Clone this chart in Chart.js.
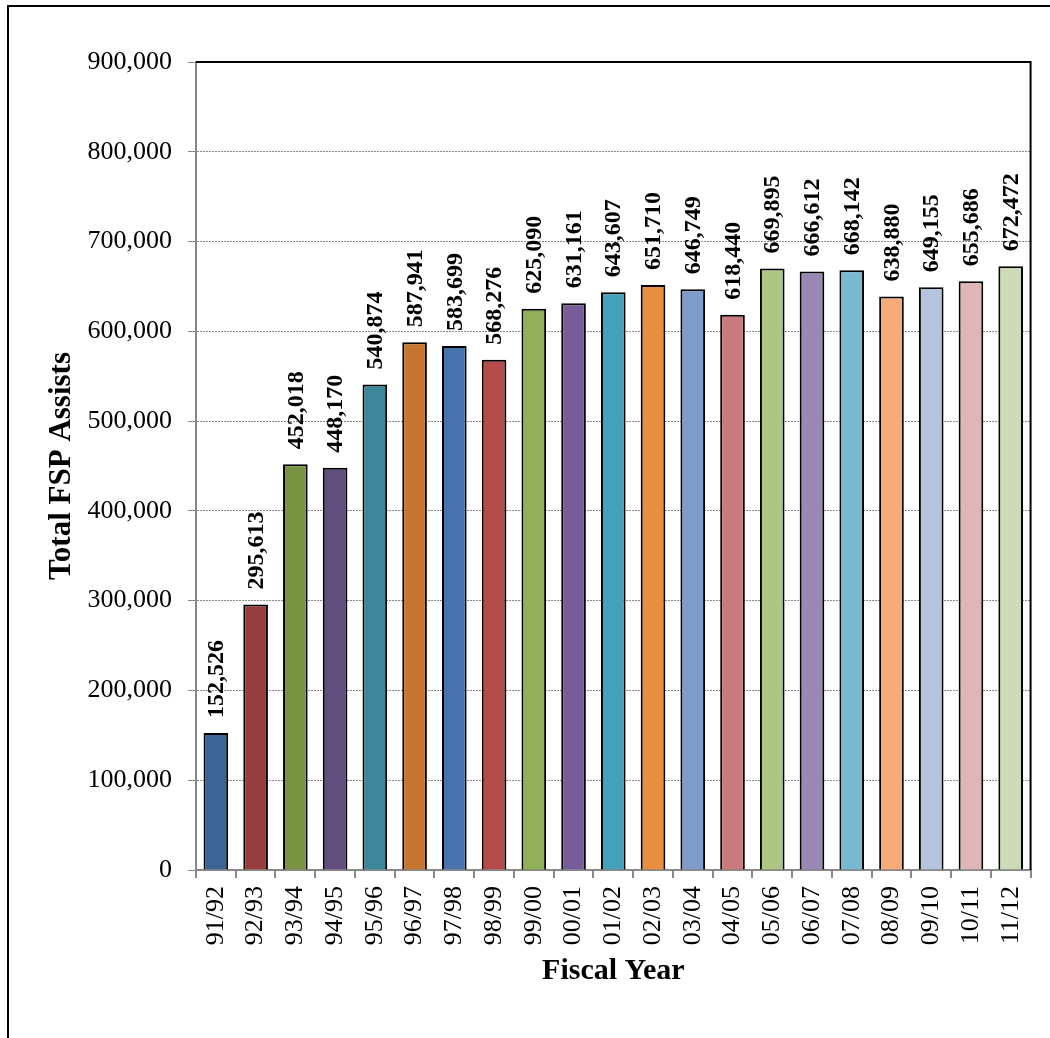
<!DOCTYPE html>
<html>
<head>
<meta charset="utf-8">
<script src="https://cdn.jsdelivr.net/npm/chart.js@4.4.1/dist/chart.umd.min.js"></script>
<style>
  html, body { margin: 0; padding: 0; background: #ffffff; }
  canvas { display: block; }
</style>
</head>
<body>
<canvas id="chart" width="1050" height="1038" style="width:1050px;height:1038px"></canvas>
<script>
// Fiscal years on the category axis
const fiscalYears = ['91/92','92/93','93/94','94/95','95/96','96/97','97/98','98/99','99/00','00/01',
  '01/02','02/03','03/04','04/05','05/06','06/07','07/08','08/09','09/10','10/11','11/12'];

// Total FSP assists per fiscal year
const totalAssists = [152526, 295613, 452018, 448170, 540874, 587941, 583699, 568276, 625090, 631161,
  643607, 651710, 646749, 618440, 669895, 666612, 668142, 638880, 649155, 655686, 672472];

// One fill per bar
const barColors = ['#3C6596','#963D3C','#799441','#634C7E','#3A889A','#C6762F','#4774AE','#B44C4A',
  '#92B056','#775C97','#45A1BA','#E98E3E','#7E9BCA','#C97A7A','#ADC684','#9B87B3','#7ABACF',
  '#F6AB78','#B5C3DE','#DFB6B6','#CDDBB6'];

// Value axis range
const yMin = 0;
const yMax = 900000;
const yStep = 100000;

const SERIF = '"Liberation Serif", "Times New Roman", serif';
const fmt = v => Number(v).toLocaleString('en-US');

// Outer frame plus black top/right edges of the plot area
const framePlugin = {
  id: 'frame',
  beforeDraw(chart) {
    const ctx = chart.ctx;
    ctx.save();
    ctx.strokeStyle = '#000';
    ctx.lineWidth = 2;
    ctx.beginPath();
    ctx.moveTo(8, 1038);
    ctx.lineTo(8, 6);
    ctx.lineTo(1050, 6);
    ctx.stroke();
    ctx.restore();
  },
  afterDatasetsDraw(chart) {
    const { ctx, chartArea: a } = chart;
    ctx.save();
    ctx.strokeStyle = '#000';
    ctx.lineWidth = 2;
    ctx.beginPath();
    ctx.moveTo(a.left, a.top);
    ctx.lineTo(a.right, a.top);
    ctx.lineTo(a.right, a.bottom);
    ctx.stroke();
    ctx.restore();
  }
};

// Vertical value labels above each bar
const valueLabelPlugin = {
  id: 'valueLabels',
  afterDatasetsDraw(chart) {
    const ctx = chart.ctx;
    const meta = chart.getDatasetMeta(0);
    const data = chart.data.datasets[0].data;
    ctx.save();
    ctx.fillStyle = '#000';
    ctx.font = 'bold 24px ' + SERIF;
    ctx.textAlign = 'left';
    ctx.textBaseline = 'middle';
    meta.data.forEach((bar, i) => {
      ctx.save();
      ctx.translate(bar.x + 1, bar.y - 15);
      ctx.rotate(-Math.PI / 2);
      ctx.fillText(fmt(data[i]), 0, 0);
      ctx.restore();
    });
    ctx.restore();
  }
};

new Chart(document.getElementById('chart'), {
  type: 'bar',
  data: {
    labels: fiscalYears,
    datasets: [{
      data: totalAssists,
      backgroundColor: barColors,
      borderColor: '#000',
      borderWidth: 2,
      categoryPercentage: 1,
      barPercentage: 0.62
    }]
  },
  options: {
    responsive: false,
    animation: false,
    devicePixelRatio: 1,
    layout: { padding: { top: 62, right: 4, left: 0, bottom: 0 } },
    plugins: {
      legend: { display: false },
      tooltip: { enabled: false }
    },
    scales: {
      x: {
        afterFit(scale) { scale.height = 168; },
        grid: {
          display: true,
          drawOnChartArea: false,
          drawTicks: true,
          tickLength: 8,
          tickColor: '#888',
          lineWidth: 2
        },
        border: { display: true, color: '#888', width: 2 },
        ticks: {
          color: '#000',
          font: { family: SERIF, size: 26 },
          minRotation: 90,
          maxRotation: 90,
          autoSkip: false,
          padding: 8
        },
        title: {
          display: true,
          text: 'Fiscal Year',
          color: '#000',
          font: { family: SERIF, size: 30, weight: 'bold' },
          padding: { top: 0, bottom: 49 }
        }
      },
      y: {
        min: yMin,
        max: yMax,
        afterFit(scale) { scale.width = 196; },
        grid: {
          color: '#8a8a8a',
          lineWidth: 1,
          tickLength: 8,
          tickColor: '#888',
          tickBorderDash: [],
          drawTicks: true
        },
        border: { display: true, color: '#888', width: 2, dash: [2, 1] },
        ticks: {
          stepSize: yStep,
          color: '#000',
          font: { family: SERIF, size: 26 },
          padding: 16,
          callback: v => fmt(v)
        },
        title: {
          display: true,
          text: 'Total FSP Assists',
          color: '#000',
          font: { family: SERIF, size: 31, weight: 'bold' },
          padding: { top: 43, bottom: 0 }
        }
      }
    }
  },
  plugins: [framePlugin, valueLabelPlugin]
});
</script>
</body>
</html>
